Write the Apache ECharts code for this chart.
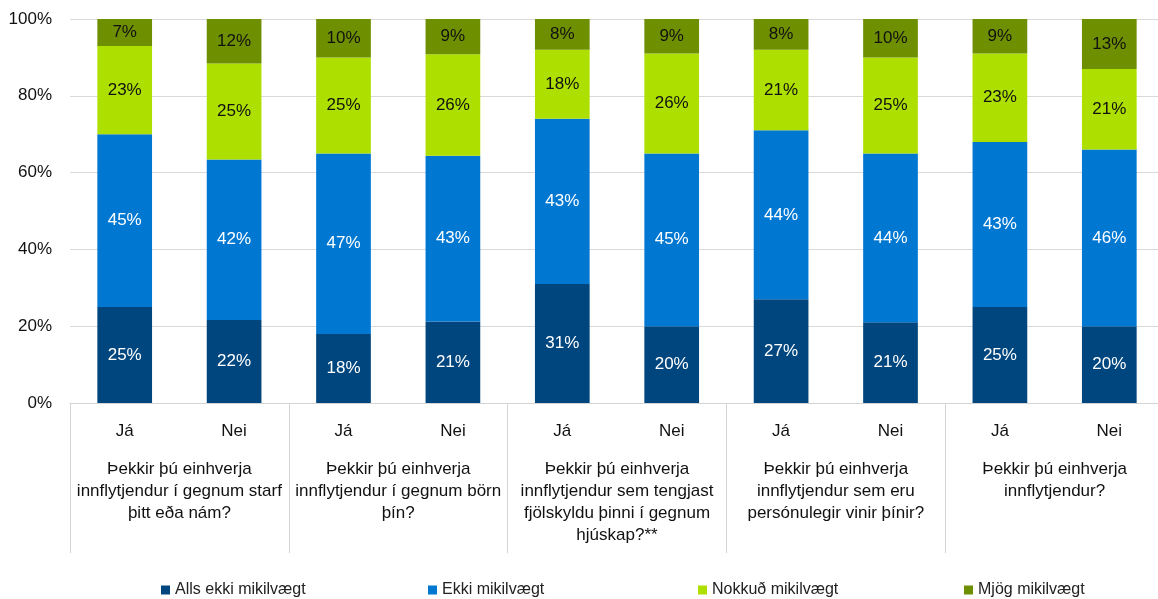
<!DOCTYPE html>
<html>
<head>
<meta charset="utf-8">
<script src="https://cdn.jsdelivr.net/npm/echarts@6/dist/echarts.min.js"></script>
<style>
html,body{margin:0;padding:0;background:#fff;overflow:hidden;}
#chart{width:1164px;height:599px;}
</style>
</head>
<body>
<div id="chart"></div>
<script>
var answers = ['Já','Nei','Já','Nei','Já','Nei','Já','Nei','Já','Nei'];
var questions = [
  'Þekkir þú einhverja\ninnflytjendur í gegnum starf\nþitt eða nám?',
  'Þekkir þú einhverja\ninnflytjendur í gegnum börn\nþín?',
  'Þekkir þú einhverja\ninnflytjendur sem tengjast\nfjölskyldu þinni í gegnum\nhjúskap?**',
  'Þekkir þú einhverja\ninnflytjendur sem eru\npersónulegir vinir þínir?',
  'Þekkir þú einhverja\ninnflytjendur?'
];
var seriesNames = ['Alls ekki mikilvægt','Ekki mikilvægt','Nokkuð mikilvægt','Mjög mikilvægt'];
var allsEkki = [25, 21.6, 18, 21.2, 31, 20, 27, 21, 25, 20];
var ekki     = [45, 41.8, 47, 43.2, 43, 45, 44, 44, 43, 46];
var nokkud   = [23, 25, 25, 26.4, 18, 26, 21, 25, 23, 21];
var mjog     = [7, 11.6, 10, 9.2, 8, 9, 8, 10, 9, 13];
var yTicks = [0, 20, 40, 60, 80, 100];

var colors = ['#00467E', '#0078D2', '#ADDF00', '#6E8F00'];
var labelColors = ['#ffffff', '#ffffff', '#111111', '#111111'];
var dataSets = [allsEkki, ekki, nokkud, mjog];
var FONT = '"Liberation Sans", Arial, sans-serif';

var chart = echarts.init(document.getElementById('chart'));
var series = dataSets.map(function (d, i) {
  return {
    name: seriesNames[i],
    type: 'bar',
    stack: 'total',
    xAxisIndex: 0,
    barWidth: '50%',
    data: d,
    itemStyle: { color: colors[i] },
    label: {
      show: true,
      position: 'inside',
      color: labelColors[i],
      fontSize: 17,
      fontFamily: FONT,
      formatter: function (p) { return Math.round(p.value) + '%'; }
    },
    emphasis: { disabled: true },
    animation: false
  };
});

var legendLefts = [156, 423, 693, 959];
var legends = seriesNames.map(function (n, i) {
  return {
    data: [n],
    left: legendLefts[i],
    top: 577,
    icon: 'rect',
    itemWidth: 9,
    itemHeight: 9,
    textStyle: { fontSize: 16, fontFamily: FONT, color: '#222' },
    selectedMode: false
  };
});

chart.setOption({
  animation: false,
  grid: { left: 70, top: 19, right: 0, bottom: 196, containLabel: false },
  legend: legends,
  xAxis: [
    {
      type: 'category',
      data: answers,
      position: 'bottom',
      axisLine: { show: true, lineStyle: { color: '#d4d4d4', width: 1 } },
      axisTick: { show: false },
      axisLabel: { margin: 20, fontSize: 17, fontFamily: FONT, color: '#111' }
    },
    {
      type: 'category',
      data: questions,
      position: 'bottom',
      axisLine: { show: false },
      axisTick: { show: true, length: 150, lineStyle: { color: '#d4d4d4', width: 1 } },
      axisLabel: { margin: 55, fontSize: 17, lineHeight: 22, fontFamily: FONT, color: '#111', verticalAlign: 'top', interval: 0 }
    }
  ],
  yAxis: {
    type: 'value',
    min: yTicks[0],
    max: yTicks[yTicks.length - 1],
    interval: 20,
    axisLine: { show: false },
    axisTick: { show: false },
    splitLine: { show: true, lineStyle: { color: '#d9d9d9', width: 1 } },
    axisLabel: { margin: 18, fontSize: 17, fontFamily: FONT, color: '#111', formatter: '{value}%' }
  },
  series: series
});
</script>
</body>
</html>
